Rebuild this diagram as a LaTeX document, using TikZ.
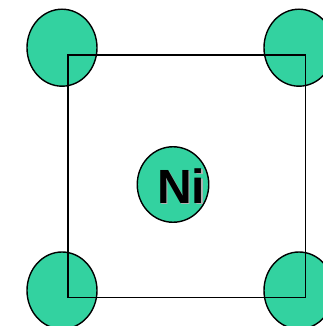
\documentclass[tikz,border=0pt]{standalone}
\usepackage{fontspec}
\setmainfont{Liberation Sans}
\usepackage{xcolor}
\usetikzlibrary{shapes.geometric,positioning}
\definecolor{nigreen}{RGB}{51,210,160}

\begin{document}
\begin{tikzpicture}[
    x=1pt, y=-1pt,
    atom/.style={ellipse, draw, line width=1.4pt, fill=nigreen, inner sep=0pt,
                 minimum width=70pt, minimum height=77pt},
    cell/.style={draw, line width=1.6pt},
    lbl/.style={font=\fontsize{48}{48}\selectfont\bfseries, inner sep=0pt},
    ]
\useasboundingbox (0,0) rectangle (322,326);
\node[atom] (tl) at (62,47.7) {};
\node[atom] (tr) at (299,47.7) {};
\node[atom] (bl) at (62,290.5) {};
\node[atom] (br) at (299,290.5) {};
\node[atom, minimum width=71.5pt, minimum height=75.5pt] (ni) at (173,184.5) {};
\coordinate (c1) at (68,55);
\coordinate (c2) at (305.5,297.3);
\draw[cell] (c1) rectangle (c2);
% label with its grey shadow
\node[lbl, text=gray!60] (nishadow) at (182.5,187.5) {Ni};
\node[lbl] (nilabel) at (181,186) {Ni};
\end{tikzpicture}
\end{document}
